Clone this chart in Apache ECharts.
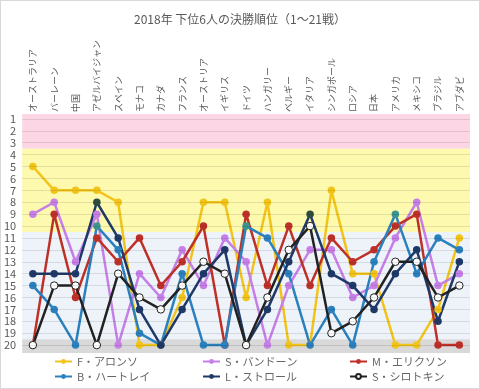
<!DOCTYPE html>
<html>
<head>
<meta charset="utf-8">
<script src="https://cdn.jsdelivr.net/npm/echarts@6/dist/echarts.min.js"></script>
<style>
html,body{margin:0;padding:0;background:#fff;}
#c{width:480px;height:389px;box-sizing:border-box;border:1px solid #d9d9d9;}
</style>
</head>
<body>
<div id="c"></div>
<script>
const categories = ['オーストラリア','バーレーン','中国','アゼルバイジャン','スペイン','モナコ','カナダ','フランス','オーストリア','イギリス','ドイツ','ハンガリー','ベルギー','イタリア','シンガポール','ロシア','日本','アメリカ','メキシコ','ブラジル','アブダビ'];
const alonso    = [5,7,7,7,8,20,20,16,8,8,16,8,20,20,7,14,14,20,20,17,11];
const vandoorne = [9,8,13,9,20,14,16,12,15,11,13,20,15,12,12,16,15,11,8,15,14];
const ericsson  = [20,9,16,11,13,11,15,13,10,20,9,15,10,15,11,13,12,10,9,20,20];
const hartley   = [15,17,20,10,12,19,20,14,20,20,10,11,14,20,17,20,13,9,14,11,12];
const stroll    = [14,14,14,8,11,17,20,17,14,12,20,17,13,9,14,15,17,14,12,18,13];
const sirotkin  = [20,15,15,20,14,16,17,15,13,14,20,16,12,10,19,18,16,13,13,16,15];
const seriesNames = ['F・アロンソ','S・バンドーン','M・エリクソン','B・ハートレイ','L・ストロール','S・シロトキン'];
const rankTicks = [1,2,3,4,5,6,7,8,9,10,11,12,13,14,15,16,17,18,19,20];
const bands = [[0.58,3.5,'#fcd6e4'],[3.5,10.5,'#fdf9ae'],[10.5,19.5,'#eef3fa'],[19.5,20.67,'#d9d9d9']];
const hartleyHighlight = [3,10,17];
const strollHighlight = [3,13];

const font = '"Noto Sans CJK JP", "Noto Sans", sans-serif';
const chart = echarts.init(document.getElementById('c'));

function mkSeries(name, data, color, opts) {
  opts = opts || {};
  return {
    name: name, type: 'line', data: data.map((v,i)=>{
      if (opts.hl && opts.hl.indexOf(i) >= 0) return {value: v, itemStyle: {color: opts.hlColor}};
      return v;
    }),
    symbol: 'circle', symbolSize: 7.5,
    lineStyle: {width: 2.5, color: opts.line || color},
    itemStyle: opts.item || {color: color},
    z: 3, animation: false
  };
}

chart.setOption({
  backgroundColor: '#fff',
  animation: false,
  title: {text: '2018年 下位6人の決勝順位（1〜21戦）', left: 'center', top: 7,
    textStyle: {fontFamily: font, fontSize: 12, fontWeight: 'normal', color: '#595959'}},
  grid: {left: 21, right: 9, top: 106, height: 250},
  xAxis: {type: 'category', data: categories, position: 'top', boundaryGap: true,
    axisLine: {show: false}, axisTick: {show: false},
    axisLabel: {rotate: 90, interval: 0, fontFamily: font, fontSize: 9, color: '#595959', margin: -5}},
  yAxis: {type: 'value', inverse: true, min: 0, max: 21, interval: 1,
    axisLine: {show: false}, axisTick: {show: false},
    axisLabel: {fontFamily: font, fontSize: 11, color: '#595959', margin: 6,
      formatter: v => (rankTicks.indexOf(v) >= 0 ? String(v) : '')},
    splitLine: {show: false}},
  legend: [
    {data: [seriesNames[0], seriesNames[3]], left: 53},
    {data: [seriesNames[1], seriesNames[4]], left: 201},
    {data: [seriesNames[2], seriesNames[5]], left: 348}
  ].map(l => Object.assign(l, {orient: 'vertical', top: 355, height: 34, padding: 0, itemGap: 4, itemWidth: 17, itemHeight: 6,
      textStyle: {fontFamily: font, fontSize: 11, color: '#666'}})),
  series: [
    {name: 'bands', type: 'line', data: [], z: 1, silent: true,
      markArea: {silent: true, data: bands.map(b => [{yAxis: b[0], itemStyle: {color: b[2]}}, {yAxis: b[1]}])},
      markLine: {silent: true, symbol: 'none', label: {show: false},
        lineStyle: {type: 'solid', width: 1, color: 'rgba(0,0,0,0.1)'},
        data: rankTicks.map(t => ({yAxis: t}))}},
    mkSeries(seriesNames[0], alonso, '#f2c419'),
    mkSeries(seriesNames[1], vandoorne, '#c77fe8'),
    mkSeries(seriesNames[2], ericsson, '#be3129'),
    mkSeries(seriesNames[3], hartley, '#2b81bd', {hl: hartleyHighlight, hlColor: '#3a9590'}),
    mkSeries(seriesNames[4], stroll, '#1f3a68', {hl: strollHighlight, hlColor: '#2f4d3c'}),
    mkSeries(seriesNames[5], sirotkin, '#222', {line: '#222', item: {color: '#fff', borderColor: '#222', borderWidth: 1}})
  ]
});
</script>
</body>
</html>
